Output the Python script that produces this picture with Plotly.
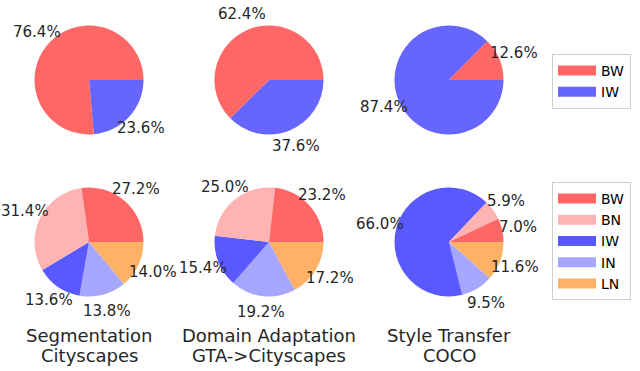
import math
import plotly.graph_objects as go

W, H = 640, 371

# ---- data ----
top_labels = ["BW", "IW"]
top_seg = [76.4, 23.6]
top_da = [62.4, 37.6]
top_st = [12.6, 87.4]

bot_labels = ["BW", "BN", "IW", "IN", "LN"]
bot_seg = [27.2, 31.4, 13.6, 13.8, 14.0]
bot_da = [23.2, 25.0, 15.4, 19.2, 17.2]
bot_st = [7.0, 5.9, 66.0, 9.5, 11.6]

titles = [("Segmentation", "Cityscapes"),
          ("Domain Adaptation", "GTA->Cityscapes"),
          ("Style Transfer", "COCO")]

top_colors = {"BW": "#ff6666", "IW": "#6666ff"}
bot_colors = {"BW": "#ff6666", "BN": "#ffb3b3", "IW": "#5959ff", "IN": "#a6a6ff", "LN": "#ffb266"}

# ---- layout constants (pixels) ----
col_cx = [89, 269, 449]
row_cy = [80, 242]
R = 54.5
TXT = "#262626"
FONT = "DejaVu Sans"

fig = go.Figure()
annotations = []

def add_pie(values, labels, colors, cx, cy):
    # matplotlib style: first slice starts at 3 o'clock, going counterclockwise.
    # Equivalent in plotly: reversed order drawn clockwise from 3 o'clock.
    fig.add_trace(go.Pie(
        values=values[::-1], labels=labels[::-1], sort=False,
        direction="clockwise", rotation=90,
        marker=dict(colors=[colors[l] for l in labels[::-1]], line=dict(width=0)),
        textinfo="none", hoverinfo="label+percent", showlegend=False,
        domain=dict(x=[(cx - R) / W, (cx + R) / W],
                    y=[1 - (cy + R) / H, 1 - (cy - R) / H]),
    ))
    total = sum(values)
    cum = 0.0
    for v in values:
        mid = 2 * math.pi * (cum + v / 2) / total
        cum += v
        px = cx + 1.3 * R * math.cos(mid)
        py = cy - 1.3 * R * math.sin(mid)
        annotations.append(dict(
            x=px / W, y=1 - py / H, xref="paper", yref="paper",
            text="%.1f%%" % (100 * v / total), showarrow=False,
            xanchor="center", yanchor="middle",
            font=dict(family=FONT, size=15, color=TXT)))

for i, vals in enumerate([top_seg, top_da, top_st]):
    add_pie(vals, top_labels, top_colors, col_cx[i], row_cy[0])
for i, vals in enumerate([bot_seg, bot_da, bot_st]):
    add_pie(vals, bot_labels, bot_colors, col_cx[i], row_cy[1])

for i, (l1, l2) in enumerate(titles):
    for j, t in enumerate([l1, l2]):
        annotations.append(dict(
            x=col_cx[i] / W, y=1 - (335 + 20 * j) / H, xref="paper", yref="paper",
            text=t, showarrow=False, xanchor="center", yanchor="middle",
            font=dict(family=FONT, size=18, color=TXT)))

# legend proxies
for l in top_labels:
    fig.add_trace(go.Scatter(x=[None], y=[None], mode="lines", name=l,
                             line=dict(color=top_colors[l], width=11),
                             legend="legend", hoverinfo="skip"))
for l in bot_labels:
    fig.add_trace(go.Scatter(x=[None], y=[None], mode="lines", name=l,
                             line=dict(color=bot_colors[l], width=11),
                             legend="legend2", hoverinfo="skip"))

leg_common = dict(xanchor="left", yanchor="top", bgcolor="white",
                  bordercolor="#d0d0d0", borderwidth=1, itemwidth=38,
                  font=dict(family=FONT, size=14, color="black"),
                  tracegroupgap=0)

fig.update_layout(
    width=W, height=H, margin=dict(l=0, r=0, t=0, b=0),
    paper_bgcolor="white", plot_bgcolor="white",
    xaxis=dict(visible=False), yaxis=dict(visible=False),
    annotations=annotations,
    legend=dict(x=552 / W, y=1 - 54 / H, **leg_common),
    legend2=dict(x=552 / W, y=1 - 182 / H, **leg_common),
)

fig.write_html("out.html", config={"displayModeBar": False},
               post_script="document.body.style.margin='0';")
